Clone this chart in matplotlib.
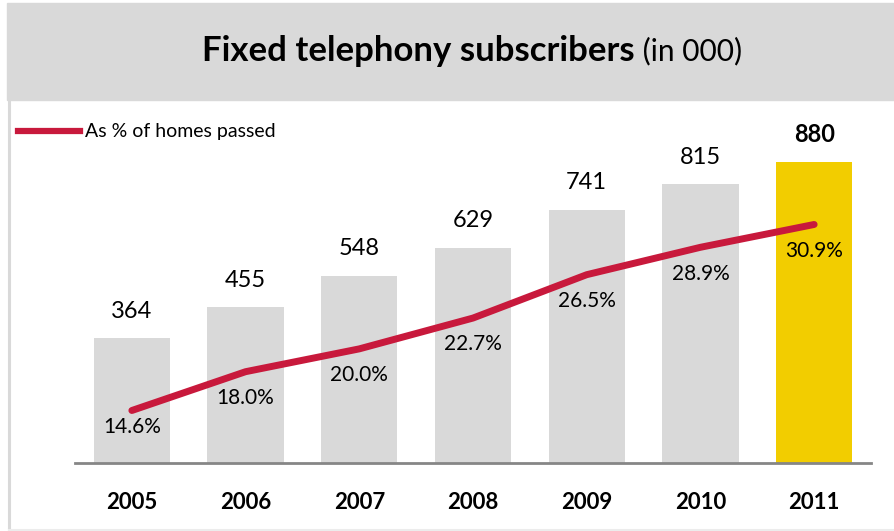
import matplotlib.pyplot as plt
from matplotlib.patches import Rectangle
from matplotlib.lines import Line2D

years = ['2005', '2006', '2007', '2008', '2009', '2010', '2011']
subscribers = [364, 455, 548, 629, 741, 815, 880]
pct_homes = [14.6, 18.0, 20.0, 22.7, 26.5, 28.9, 30.9]

GREY = '#d9d9d9'
YELLOW = '#f2cd00'
RED = '#c8193c'

plt.rcParams['font.family'] = ['Lato', 'DejaVu Sans']


def main():
    W, H = 894, 531
    fig = plt.figure(figsize=(W / 100, H / 100), dpi=100)

    # header band and frame
    fig.patches.append(Rectangle((7 / W, 1 - 100 / H), 1 - 7 / W, 97 / H,
                                 transform=fig.transFigure, color=GREY, zorder=0))
    fig.lines.append(Line2D([8.5 / W, 8.5 / W], [1 / H, 1 - 100 / H],
                            transform=fig.transFigure, color=GREY, lw=2.2))
    fig.lines.append(Line2D([8.5 / W, 1], [1.5 / H, 1.5 / H],
                            transform=fig.transFigure, color='#ececec', lw=1.5))

    ax = fig.add_axes([75 / W, 68 / H, 796 / W, 353 / H])
    x = list(range(len(years)))
    colors = [GREY] * (len(years) - 1) + [YELLOW]
    ax.bar(x, subscribers, width=0.67, color=colors, zorder=1)
    ax.set_xlim(-0.5, 6.5)
    ax.set_ylim(0, 1032)

    for i, v in enumerate(subscribers):
        last = i == len(subscribers) - 1
        ax.annotate(str(v), (i, v), xytext=(0, 19.5), textcoords='offset points',
                    ha='center', va='center', fontsize=17,
                    fontweight='bold' if last else 'normal', color='black')

    for s in ['top', 'right', 'left']:
        ax.spines[s].set_visible(False)
    ax.spines['bottom'].set_color('#868686')
    ax.spines['bottom'].set_linewidth(2)
    ax.set_yticks([])
    ax.set_xticks(x)
    ax.set_xticklabels(years, fontsize=16, fontweight='bold')
    ax.tick_params(axis='x', length=0, pad=21)
    ax.patch.set_alpha(0)

    ax2 = ax.twinx()
    ax2.plot(x, pct_homes, color=RED, lw=5, solid_capstyle='round',
             solid_joinstyle='round', zorder=3)
    ax2.set_ylim(10, 40.93)
    ax2.axis('off')
    for i, p in enumerate(pct_homes):
        off = -12 if i == 0 else -19
        ax2.annotate(f'{p:.1f}%', (i, p), xytext=(0, off), textcoords='offset points',
                     ha='center', va='center', fontsize=15, color='black')

    # legend
    fig.lines.append(Line2D([18 / W, 80 / W], [1 - 131 / H, 1 - 131 / H],
                            transform=fig.transFigure, color=RED, lw=4.5))
    fig.text(85 / W, 1 - 132 / H, 'As % of homes passed', fontsize=14,
             ha='left', va='center')

    # title: bold part followed by regular part, centred together
    t1 = fig.text(0, 1 - 51 / H, 'Fixed telephony subscribers', fontsize=25,
                  fontweight='bold', ha='left', va='center')
    t2 = fig.text(0, 1 - 51 / H, ' (in 000)', fontsize=21.5, ha='left', va='center')
    fig.canvas.draw()
    r = fig.canvas.get_renderer()
    w1 = t1.get_window_extent(r).width
    w2 = t2.get_window_extent(r).width
    start = 472 - (w1 + w2) / 2
    t1.set_x(start / W)
    t2.set_x((start + w1) / W)

    fig.savefig('out.png', dpi=100)


if __name__ == '__main__':
    main()
